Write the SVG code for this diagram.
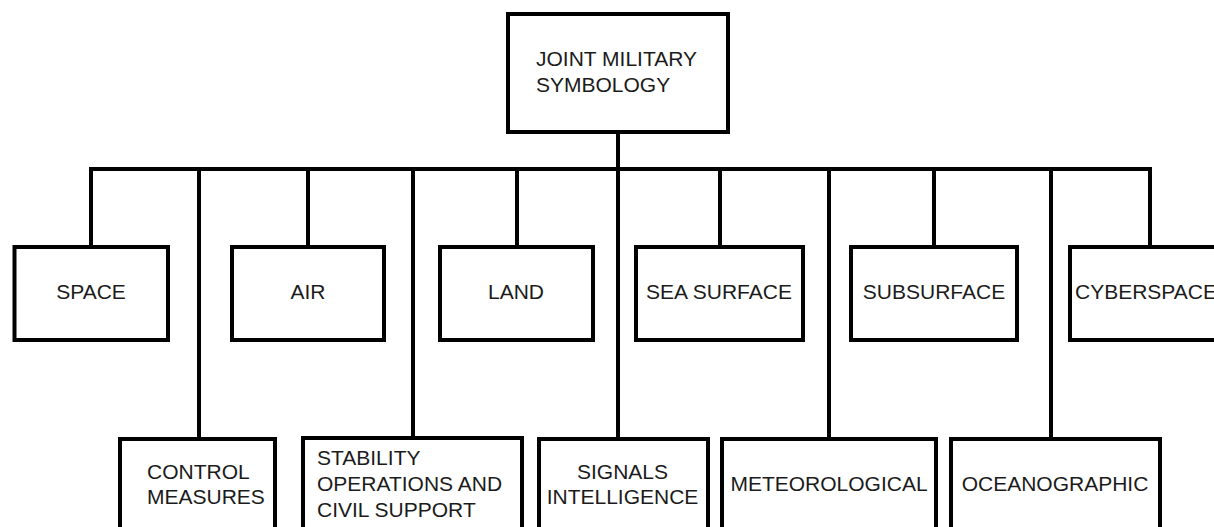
<svg xmlns="http://www.w3.org/2000/svg" width="1214" height="527" viewBox="0 0 1214 527">
<style>
.box{fill:#fff;stroke:#000;stroke-width:4}
.ln{fill:none;stroke:#000;stroke-width:4;stroke-linecap:square}
text{font-family:"Liberation Sans",Arial,sans-serif;font-size:21px;fill:#1b1b1b}
.c{text-anchor:middle}
</style>
<rect width="1214" height="527" fill="#fff"/>
<g id="connectors">
<path class="ln" d="M618 132V169M91 169H1150M91 169V247M199 169V439M308 169V247M413 169V438M517 169V247M618 169V439M720 169V247M829 169V439M934 169V247M1051 169V439M1150 169V247"/>
</g>
<g id="root"><rect class="box" x="508" y="14" width="220" height="118"/><text x="536" y="66">JOINT MILITARY</text><text x="536" y="92">SYMBOLOGY</text></g>
<g id="space"><rect class="box" x="14.5" y="247" width="153.5" height="93"/><text class="c" x="91" y="299">SPACE</text></g>
<g id="air"><rect class="box" x="232" y="247" width="152" height="93"/><text class="c" x="308" y="299">AIR</text></g>
<g id="land"><rect class="box" x="440" y="247" width="153" height="93"/><text class="c" x="516" y="299">LAND</text></g>
<g id="sea-surface"><rect class="box" x="636" y="247" width="167" height="93"/><text class="c" x="719" y="299">SEA SURFACE</text></g>
<g id="subsurface"><rect class="box" x="851" y="247" width="166" height="93"/><text class="c" x="934" y="299">SUBSURFACE</text></g>
<g id="cyberspace"><rect class="box" x="1070" y="247" width="200" height="93"/><text x="1075" y="299">CYBERSPACE</text></g>
<g id="control-measures"><rect class="box" x="120" y="439" width="155" height="130"/><text x="147" y="479">CONTROL</text><text x="147" y="504">MEASURES</text></g>
<g id="stability"><rect class="box" x="303" y="438" width="219" height="130"/><text x="317" y="465">STABILITY</text><text x="317" y="491">OPERATIONS AND</text><text x="317" y="517">CIVIL SUPPORT</text></g>
<g id="signals"><rect class="box" x="539" y="439" width="169" height="130"/><text class="c" x="622.5" y="479">SIGNALS</text><text class="c" x="622.5" y="504">INTELLIGENCE</text></g>
<g id="meteorological"><rect class="box" x="722" y="439" width="214" height="130"/><text class="c" x="829" y="491">METEOROLOGICAL</text></g>
<g id="oceanographic"><rect class="box" x="951" y="439" width="209" height="130"/><text class="c" x="1055" y="491">OCEANOGRAPHIC</text></g>
</svg>
